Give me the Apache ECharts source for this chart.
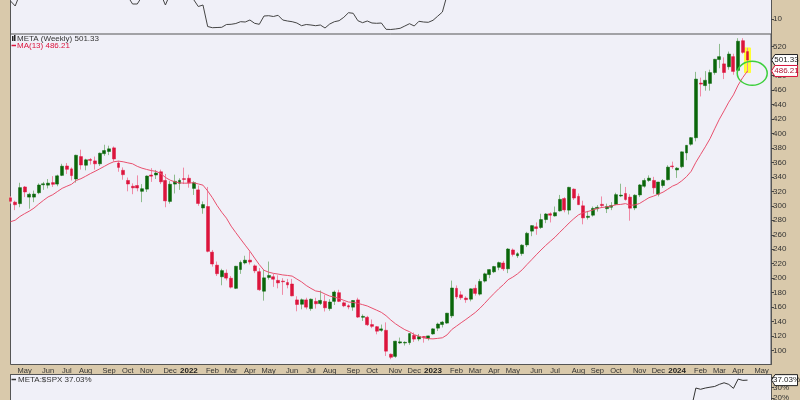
<!DOCTYPE html>
<html><head><meta charset="utf-8">
<script src="https://cdn.jsdelivr.net/npm/echarts@6/dist/echarts.min.js"></script>
<style>html,body{margin:0;padding:0;background:#d9c9ab;}#c{width:800px;height:400px;}</style>
</head><body><div id="c"></div>
<script>
// ---- categories (weekly, Monday dates) ----
const weeks = [
'2021-04-12','2021-04-19','2021-04-26','2021-05-03','2021-05-10','2021-05-17','2021-05-24','2021-05-31','2021-06-07','2021-06-14','2021-06-21','2021-06-28','2021-07-05','2021-07-12','2021-07-19','2021-07-26','2021-08-02','2021-08-09','2021-08-16','2021-08-23','2021-08-30','2021-09-06','2021-09-13','2021-09-20','2021-09-27','2021-10-04','2021-10-11','2021-10-18','2021-10-25','2021-11-01','2021-11-08','2021-11-15','2021-11-22','2021-11-29','2021-12-06','2021-12-13','2021-12-20','2021-12-27',
'2022-01-03','2022-01-10','2022-01-17','2022-01-24','2022-01-31','2022-02-07','2022-02-14','2022-02-21','2022-02-28','2022-03-07','2022-03-14','2022-03-21','2022-03-28','2022-04-04','2022-04-11','2022-04-18','2022-04-25','2022-05-02','2022-05-09','2022-05-16','2022-05-23','2022-05-30','2022-06-06','2022-06-13','2022-06-20','2022-06-27','2022-07-04','2022-07-11','2022-07-18','2022-07-25','2022-08-01','2022-08-08','2022-08-15','2022-08-22','2022-08-29','2022-09-05','2022-09-12','2022-09-19','2022-09-26','2022-10-03','2022-10-10','2022-10-17','2022-10-24','2022-10-31','2022-11-07','2022-11-14','2022-11-21','2022-11-28','2022-12-05','2022-12-12','2022-12-19','2022-12-26',
'2023-01-02','2023-01-09','2023-01-16','2023-01-23','2023-01-30','2023-02-06','2023-02-13','2023-02-20','2023-02-27','2023-03-06','2023-03-13','2023-03-20','2023-03-27','2023-04-03','2023-04-10','2023-04-17','2023-04-24','2023-05-01','2023-05-08','2023-05-15','2023-05-22','2023-05-29','2023-06-05','2023-06-12','2023-06-19','2023-06-26','2023-07-03','2023-07-10','2023-07-17','2023-07-24','2023-07-31','2023-08-07','2023-08-14','2023-08-21','2023-08-28','2023-09-04','2023-09-11','2023-09-18','2023-09-25','2023-10-02','2023-10-09','2023-10-16','2023-10-23','2023-10-30','2023-11-06','2023-11-13','2023-11-20','2023-11-27','2023-12-04','2023-12-11','2023-12-18','2023-12-25',
'2024-01-01','2024-01-08','2024-01-15','2024-01-22','2024-01-29','2024-02-05','2024-02-12','2024-02-19','2024-02-26','2024-03-04','2024-03-11','2024-03-18','2024-03-25','2024-04-01','2024-04-08','2024-04-15',
'2024-04-22','2024-04-29','2024-05-06','2024-05-13','2024-05-20'
];
const monthNames = ['Jan','Feb','Mar','Apr','May','Jun','Jul','Aug','Sep','Oct','Nov','Dec'];

// ---- META weekly OHLC ----
const opens = [
311,305,303,326,312,312,318,329,328.5,332,
330,342,355,351,337,368,356,364,362,358,
372,375,380,359,349,335,327,328,320,323,
342.5,342.5,347,335,306,330,331,337.5,338,324,
322,297,299,236,218,202,207,200,186,212,
221,225,217,209,182,201,202,197,196,194,
192,170,164,170,158,168,165,168,158,168,
180,166,162,160,170,146,146,136,133,128,
128,95,92,110.5,110.5,111,121,116,119.5,117,
123,131,136,138,148,186,177,172.5,171,186,
178,196,205,208.8,215,221,213,239,231,234,
246,265,271,270,281,289,286,293,310,294,
323,313,300,284,287,296,302,296,298,302,
313.5,317,312,297,315,327,335,335,316,328,
336,355,349.5,354,373,385,394,469.5,466,469,
484,502,496,492,506,487,528,513];
const highs = [
313,307,331.8,327.3,318,321,331,333,337,341,
343,358,359,353,370.5,377.5,365,366,368,373.5,
384.3,383,382,362,353,339,331,342,330,342,
352,349.5,350,344,334,343,338,352.7,343,334,
328,306,326,239,223,213,212,203,217,224.5,
231,236.9,219,214,212,223,206,204,200,199,
199,175,172,173,172,173,183,177,171,183,
184,168,164,169.5,173,150,148,143,134,136,
139,96,113.5,118,112.8,124,125,123,120,120.5,
130.9,138.6,141,152,196.7,190,182,175,186,191,
199,207.6,212.2,217,222.9,224,241.7,241,236,247,
264,273,277,289,290,291,299,315,312,326.2,
324,317,307,293,299,301,312.9,303,305,318,
330.5,326,316,316,330,338,342,340,333,337,
356,361,353.5,375,384,395,485,477,486,488,
503,523.6,505,513,510,531.5,531.5,518];
const lows = [
303,294,298,312,296,305,316,322,324,326,
327,341,344,335,332,350,349,357,350,355,
369,370,361,347,336,320,316,320,305,319,
333,337,330,298,303,317,322,330,325,315,
300,289,235.7,216,203,190.2,197,185.8,185,206,
219,219,207,182.5,169,198,188,186,177,186,
175,154.3,157,157,155,158,163,154,155,163,
167,160,157,155,145,141,134,131,122.5,126,
92.6,88.1,90,109,107,108,112,113,111,114,
122,127,132,137,145,171,170,166,168,176,
176,194,200,207,211,210,207,229.9,228,231,
243,258,260,268,276,277,285,292,291,288,
308,301,274.4,281,285,292,297,290,294,301,
312,307,279.4,294,312,325,333,316.6,313,325,
335,351,338.5,352,363,383,389,451,459,459,
481,490,475,488,481,486,510,484];
const closes = [
306.2,301.5,325.1,319.1,315.9,316.2,328.7,330.4,331.3,329.7,
341.4,354.7,350.4,341.7,369.8,356.3,363.5,362.7,358,372.6,
376.3,378.7,364.7,353,343,330.1,324.8,324.6,323.6,341.1,
340.9,345.3,333.1,306.8,329.8,333.8,335.2,336.4,331.8,331.9,
303.2,301.7,237.1,219.6,206.2,210.5,200.1,187.6,216.5,221.8,
224.9,222.3,210.2,184.1,200.5,203.8,198.6,193.5,195.1,190.8,
175.6,163.7,170.2,160,171,164.7,169.3,159.1,167.1,180.9,
168,161.8,160.3,169.2,146.3,147.3,135.7,133.5,126.8,130,
99.2,90.8,113,112.1,111.4,123.5,115.9,119.4,118,120.3,
130,136.7,139.4,151.7,186.5,174.2,173,170.4,185.3,179,
195.6,206,211.9,216.1,221.5,212.9,240.3,232.8,233.8,245.6,
262,272.6,268.6,281,288.7,287,290.5,308.9,294.3,325.5,
310.7,301.6,283.3,285.5,296.4,297.9,300.3,299.1,300.2,315.4,
314.7,308.7,296.7,314.6,328.8,335,338.2,324.8,332.8,334.9,
353.4,354,352,374.5,383.5,394.1,475,468.1,473.3,484,
502.3,506,484.1,509.6,485.6,527.3,511.9,501.33];
// ---- MA(13) as read ----
const ma13 = [
278.0,280.1,285.2,289.1,292.6,296.8,302.3,307.4,312.2,315.3,
319.7,324.1,327.0,329.7,335.0,337.4,340.8,344.4,347.6,351.0,
354.5,358.1,360.8,361.7,360.8,359.3,358.0,354.5,352.0,350.2,
348.6,347.6,344.6,339.2,335.4,333.1,331.7,331.2,331.3,331.9,
330.2,328.5,320.5,311.2,300.5,291.1,282.9,271.9,262.9,254.2,
245.6,237.2,227.8,218.7,210.9,208.3,206.7,205.7,204.5,203.8,
202.9,198.8,194.9,189.9,185.9,182.4,181.3,178.1,175.3,173.9,
172.0,169.4,167.1,166.6,165.2,163.5,161.6,158.7,155.8,152.8,
148.2,142.3,137.1,132.8,128.9,126.1,122.0,119.9,117.6,116.5,
116.2,116.9,117.7,121.7,129.1,133.8,138.5,143.0,147.8,152.6,
158.5,165.2,172.3,178.9,185.4,191.1,197.9,201.5,206.0,211.6,
218.7,225.4,232.3,238.9,245.2,251.0,256.7,263.4,269.7,276.3,
282.2,287.5,290.4,292.2,294.0,296.3,297.7,298.5,299.6,301.5,
301.9,303.0,300.8,301.1,303.2,307.2,311.2,313.4,316.1,318.8,
322.9,327.1,329.9,334.5,340.2,347.7,360.1,370.8,381.4,392.6,
406.3,419.6,431.1,443.1,453.2,466.7,477.3,486.21];
// ---- upper panel line (partially visible) ----
const upperLine = [
13.6,12.6,15,15,15,15,15,15,15,15,
15,15,15,15,15,15,15,15,15,15,
15,15,15,15,15,14.5,13.0,13.0,14.5,15,
15,15,15,12.8,15,15,15,15,15,13.9,
12.5,12.8,8.5,8.26,8.3,8.34,8.9,8.94,9.1,9.46,
9.4,9.8,9.14,8.94,10.6,10.66,10.5,10.74,9.8,9.6,
9.46,9.2,8.66,8.9,8.8,8.66,8.8,8.2,9.0,9.46,
9.66,10.34,11.26,11.14,9.66,9.26,9.6,9.2,9.14,9.2,
7.94,7.9,8.0,8.14,8.6,9.06,8.6,9.54,9.4,9.34,
9.74,10.56,11.4,14.8,16];
// ---- lower panel: META:$SPX relative % ----
const relPerf = ['-','-','-','-','-','-','-','-','-','-','-','-','-','-','-','-','-','-','-','-',
'-','-','-','-','-','-','-','-','-','-','-','-','-','-','-','-','-','-','-','-',
'-','-','-','-','-','-','-','-','-','-','-','-','-','-','-','-','-','-','-','-',
'-','-','-','-','-','-','-','-','-','-','-','-','-','-','-','-','-','-','-','-',
'-','-','-','-','-','-','-','-','-','-','-','-','-','-','-','-','-','-','-','-',
'-','-','-','-','-','-','-','-','-','-','-','-','-','-','-','-','-','-','-','-',
'-','-','-','-','-','-','-','-','-','-','-','-','-','-','-','-','-','-','-','-',
'-','-','-',2,5,9.7,29.5,28.3,29.5,30.3,31,33,34.5,33,29.2,38,36.8,37.03];
const priceTicks = [100,120,140,160,180,200,220,240,260,280,300,320,340,360,380,400,420,440,460,480,500,520];
const upperTicks = [10];
const relTicks = [20,30,40];

const N = closes.length;
const ohlcFull = opens.map((o,i)=>[o, closes[i], lows[i], highs[i]]);
const ohlcBody = opens.map((o,i)=>[o, closes[i], Math.min(o,closes[i]), Math.max(o,closes[i])]);
const ohlcHi = opens.map((o,i)=> i===N-1 ? [highs[i], lows[i], lows[i], highs[i]] : ['-','-','-','-']);

const FONT = 'Liberation Sans';
const BG = '#f0f0f8';
const chart = echarts.init(document.getElementById('c'), null, {width:800, height:400});
const gridBase = {left:10.5, right:29, show:true, backgroundColor:BG, borderColor:'#555', borderWidth:1, containLabel:false, outerBoundsMode:'none'};
const catAxis = (gi, showLabel) => ({
  type:'category', gridIndex:gi, data:weeks, boundaryGap:false,
  axisLine:{show:false}, axisTick:{show:false}, splitLine:{show:false},
  axisLabel: showLabel ? {
    show:true, fontFamily:FONT, fontSize:7.5, color:'#333', margin:2, hideOverlap:false,
    interval:(idx, val)=> idx>0 && val.slice(5,7)!==weeks[idx-1].slice(5,7),
    formatter:(val)=>{ const m=+val.slice(5,7); return m===1 ? '{y|'+val.slice(0,4)+'}' : monthNames[m-1]; },
    rich:{y:{fontWeight:'bold', fontSize:8, color:'#222', fontFamily:FONT}}
  } : {show:false}
});
const valAxis = (gi, min, max, ticks, fmt) => ({
  type:'value', gridIndex:gi, position:'right', min:min, max:max,
  splitLine:{show:false},
  axisLine:{show:true, lineStyle:{color:'#555'}},
  axisTick:{show:true, length:3, customValues:ticks, lineStyle:{color:'#444'}},
  axisLabel:{show:true, customValues:ticks, fontFamily:FONT, fontSize:8, color:'#333', margin:2, hideOverlap:false, formatter:fmt}
});

chart.setOption({
  animation:false,
  backgroundColor:'#d9c9ab',
  grid:[
    Object.assign({}, gridBase, {top:0, height:34, borderWidth:0}),
    Object.assign({}, gridBase, {top:34, height:330.5}),
    Object.assign({}, gridBase, {top:374.5, height:25.5, borderWidth:0})
  ],
  xAxis:[catAxis(0,false), catAxis(1,true), catAxis(2,false)],
  yAxis:[
    valAxis(0, 7.0, 13.8, upperTicks, '{value}'),
    valAxis(1, 80.8, 537.27, priceTicks, '{value}'),
    valAxis(2, 18.1, 42.4, relTicks, '{value}%'),
    {type:'value', gridIndex:0, position:'left', min:0, max:1, axisLine:{show:true, lineStyle:{color:'#555'}}, axisTick:{show:false}, axisLabel:{show:false}, splitLine:{show:false}},
    {type:'value', gridIndex:2, position:'left', min:0, max:1, axisLine:{show:true, lineStyle:{color:'#555'}}, axisTick:{show:false}, axisLabel:{show:false}, splitLine:{show:false}}
  ],
  series:[
    {type:'line', xAxisIndex:0, yAxisIndex:0, data:upperLine, symbol:'none', lineStyle:{color:'#444', width:1}},
    {type:'candlestick', xAxisIndex:1, yAxisIndex:1, data:ohlcHi, barWidth:7, z:1,
      itemStyle:{color:'#ffff33', color0:'#ffff33', borderColor:'#ffff33', borderColor0:'#ffff33', borderWidth:1}},
    {type:'candlestick', xAxisIndex:1, yAxisIndex:1, data:ohlcFull, barWidth:1, z:2,
      itemStyle:{color:'#8dbb8d', color0:'#f08aa6', borderColor:'#8dbb8d', borderColor0:'#f08aa6', borderWidth:1}},
    {type:'candlestick', xAxisIndex:1, yAxisIndex:1, data:ohlcBody, barWidth:3.4, z:3,
      itemStyle:{color:'#0a660a', color0:'#dc143c', borderColor:'#0a660a', borderColor0:'#dc143c', borderWidth:0.5}},
    {type:'line', xAxisIndex:1, yAxisIndex:1, data:ma13, symbol:'none', z:4, lineStyle:{color:'#e8506e', width:1}},
    {type:'line', xAxisIndex:2, yAxisIndex:2, data:relPerf, symbol:'none', lineStyle:{color:'#333', width:1}}
  ]
});

function valueBox(y, text, stroke, textColor){
  return {type:'group', children:[
    {type:'polygon', shape:{points:[[771.5,y],[775,y-5.5],[797.5,y-5.5],[797.5,y+5.5],[775,y+5.5]]},
     style:{fill:'#ffffff', stroke:stroke, lineWidth:1}, z:10},
    {type:'text', x:786.5, y:y, style:{text:text, fill:textColor, font:'8px "'+FONT+'"', align:'center', verticalAlign:'middle'}, z:11}
  ]};
}
const lastClose = closes[N-1], lastMA = ma13[N-1], lastRel = relPerf[N-1];
const yClose = chart.convertToPixel({yAxisIndex:1}, lastClose);
const yMA = chart.convertToPixel({yAxisIndex:1}, lastMA);
const yRel = chart.convertToPixel({yAxisIndex:2}, lastRel);
const ell = chart.convertToPixel({xAxisIndex:1, yAxisIndex:1}, [N, 483]);

chart.setOption({graphic:[
  {type:'rect', shape:{x:12, y:36, width:1.5, height:5}, style:{fill:'#222'}, z:10},
  {type:'rect', shape:{x:14, y:35, width:1.5, height:6}, style:{fill:'#222'}, z:10},
  {type:'text', x:17, y:38.5, style:{text:'META (Weekly) '+lastClose.toFixed(2), fill:'#333', font:'8px "'+FONT+'"', verticalAlign:'middle'}, z:10},
  {type:'line', shape:{x1:11.5, y1:45.5, x2:16, y2:45.5}, style:{stroke:'#dc143c', lineWidth:1.5}, z:10},
  {type:'text', x:17, y:45.5, style:{text:'MA(13) '+lastMA.toFixed(2), fill:'#dc143c', font:'8px "'+FONT+'"', verticalAlign:'middle'}, z:10},
  {type:'line', shape:{x1:11.5, y1:379.5, x2:16, y2:379.5}, style:{stroke:'#333', lineWidth:1.5}, z:10},
  {type:'text', x:18, y:379.5, style:{text:'META:$SPX '+lastRel.toFixed(2)+'%', fill:'#333', font:'8px "'+FONT+'"', verticalAlign:'middle'}, z:10},
  {type:'line', shape:{x1:10.5, y1:374.5, x2:771, y2:374.5}, style:{stroke:'#555', lineWidth:1}, z:10},
  {type:'ellipse', shape:{cx:ell[0], cy:ell[1], rx:15, ry:12}, style:{fill:'none', stroke:'#3ccf3c', lineWidth:1.5}, z:12},
  valueBox(yClose, lastClose.toFixed(2), '#222', '#222'),
  valueBox(yMA, lastMA.toFixed(2), '#dc143c', '#b01030'),
  valueBox(yRel, lastRel.toFixed(2)+'%', '#222', '#222')
]});
</script></body></html>
